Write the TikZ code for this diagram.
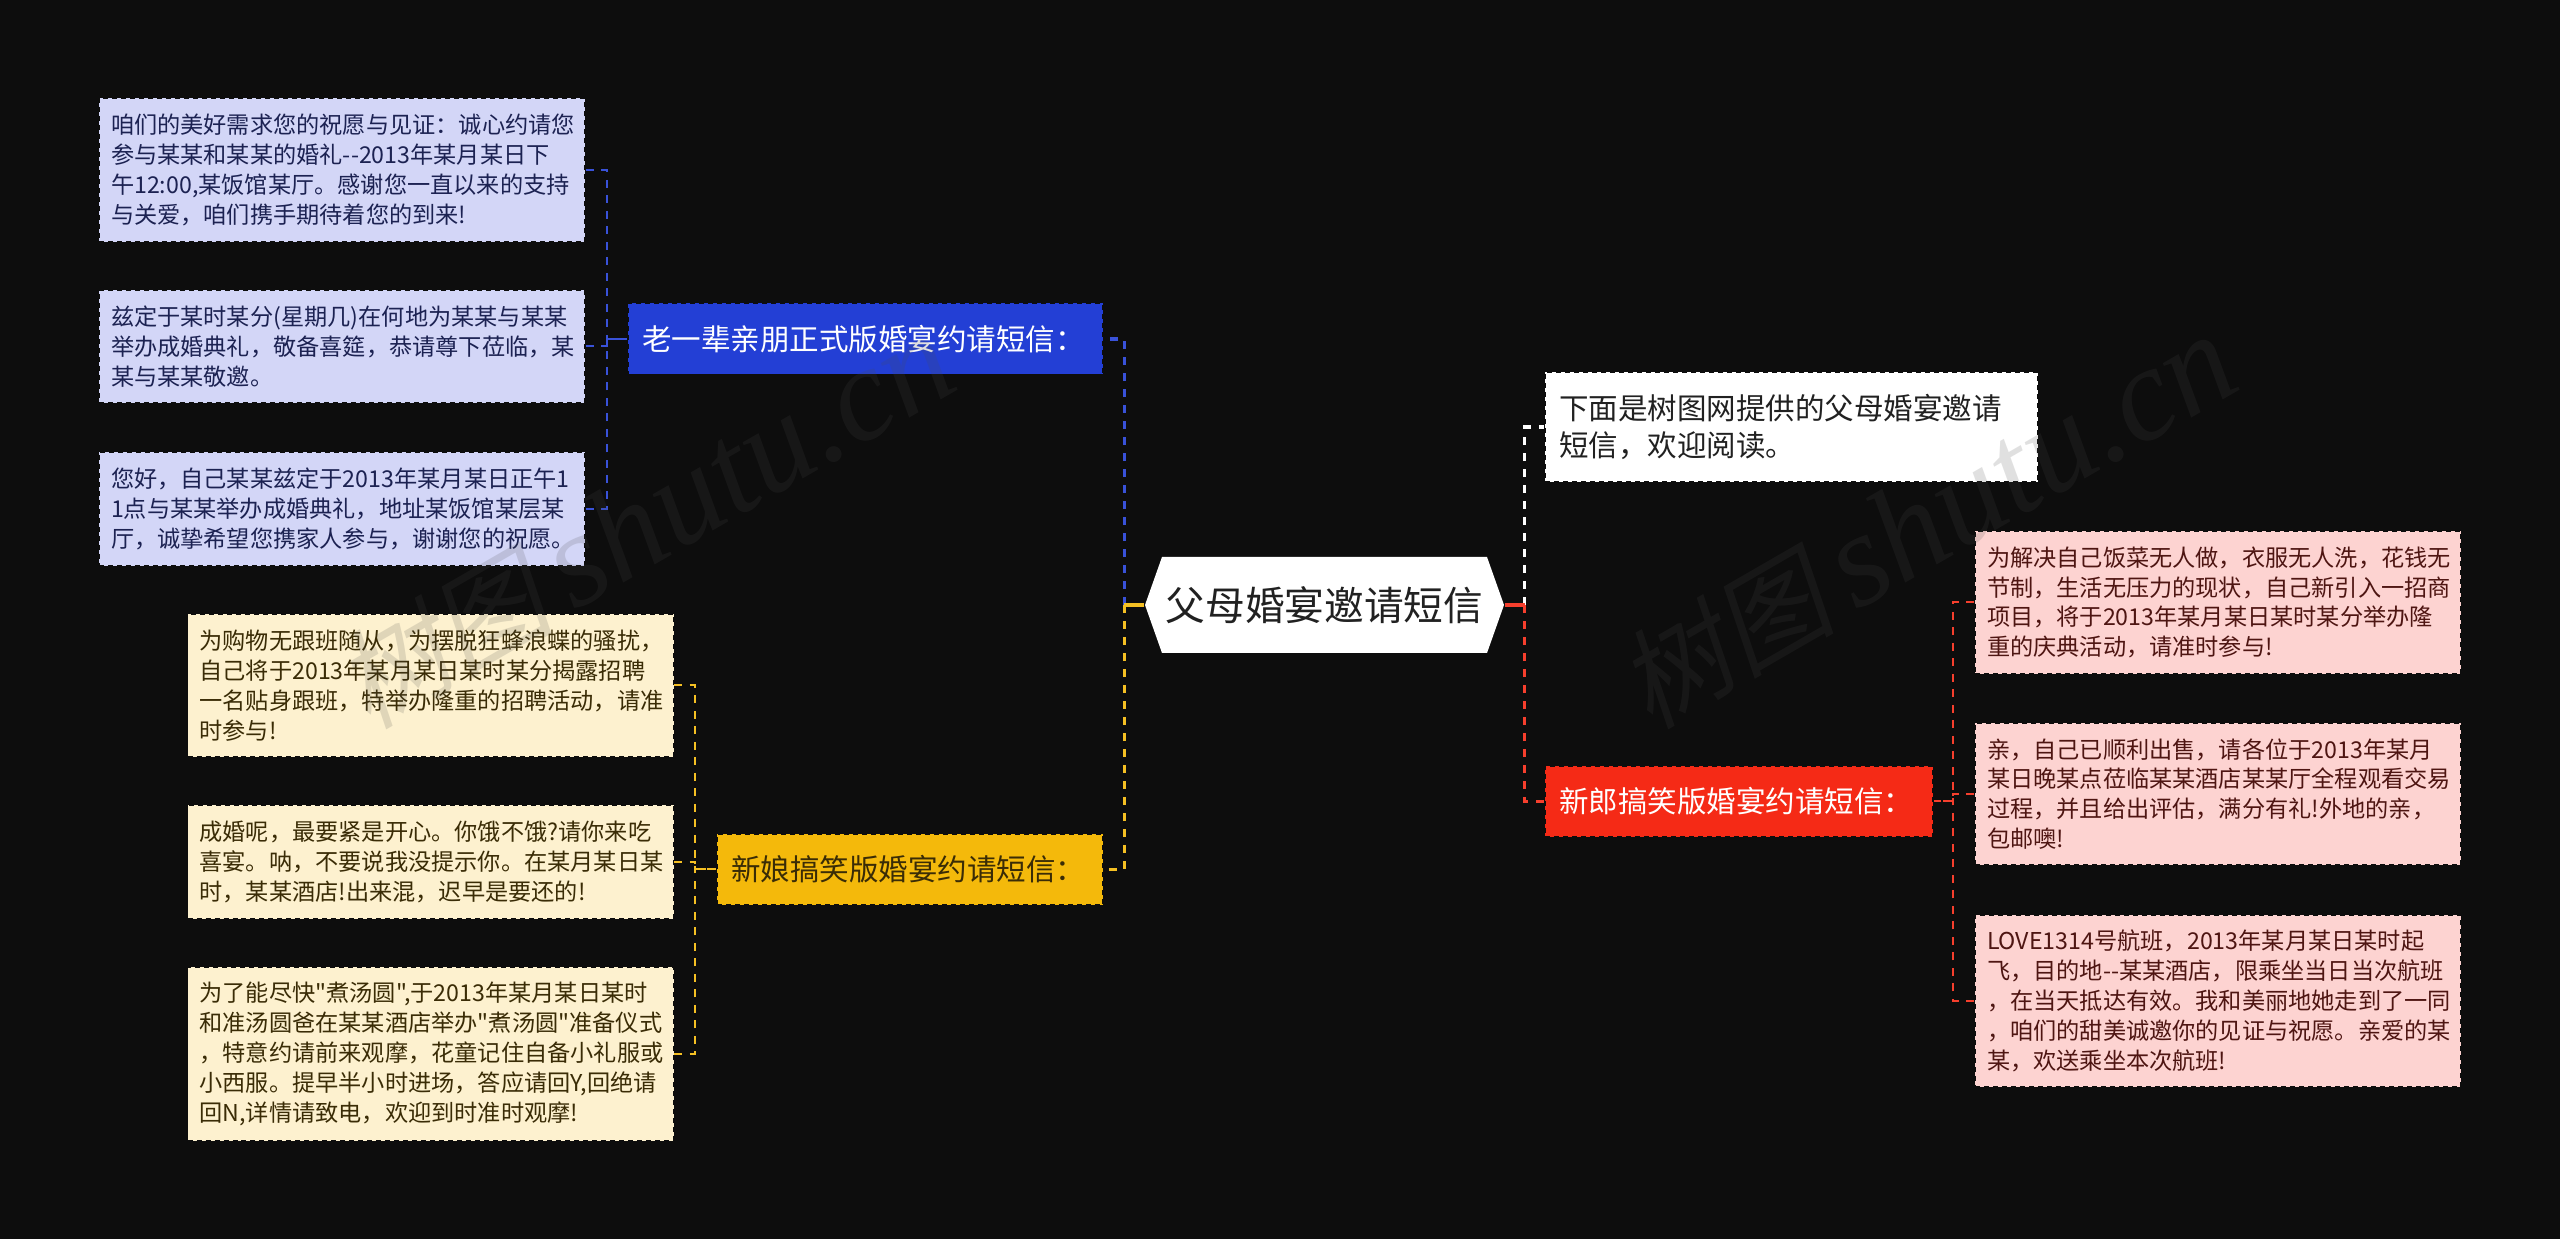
\documentclass[tikz,border=0pt]{standalone}
\usepackage{fontspec}
\setmainfont{Noto Sans CJK SC}[Ligatures=TeXOff]
\newfontfamily\markcjk[FakeSlant=0.2]{Noto Sans CJK SC}
\newfontfamily\marklatin{Liberation Serif}
\usetikzlibrary{shapes.symbols}

\definecolor{bgdark}{HTML}{0D0D0D}
\definecolor{headblue}{HTML}{233FD5}
\definecolor{headgold}{HTML}{F4B90B}
\definecolor{headred}{HTML}{F52A16}
\definecolor{paleblue}{HTML}{D3D6F7}
\definecolor{palegold}{HTML}{FDF1CF}
\definecolor{palered}{HTML}{FDD3D1}
\definecolor{inkblue}{HTML}{1C2252}
\definecolor{inkgold}{HTML}{3A2C06}
\definecolor{inkred}{HTML}{4E1512}

\tikzset{
  boxbase/.style={draw=bgdark, line width=0.014cm, dash pattern=on 0.05cm off 0.04cm, align=left, inner ysep=0pt},
  leafbox/.style={boxbase, inner xsep=0.12cm, text width=4.62cm, font=\fontsize{6.6}{8.5}\selectfont},
  headbox/.style={boxbase, inner xsep=0.14cm, minimum height=0.71cm, font=\fontsize{8.4}{10.5}\selectfont},
  rootbox/.style={signal, signal to=west and east, signal pointer angle=141,
    fill=white, inner sep=0pt, minimum width=3.59cm, minimum height=0.96cm, text=black!87,
    font=\fontsize{11.3}{13}\selectfont},
  mainlink/.style={line width=0.033cm, dash pattern=on 0.08cm off 0.08cm},
  stublink/.style={line width=0.033cm},
  sublink/.style={line width=0.02cm, dash pattern=on 0.08cm off 0.075cm},
  watermark/.style={rotate=30, text=black!70, opacity=0.17, inner sep=0pt},
}

\newcommand{\markwords}{{\fontsize{31}{32}\markcjk 树图}\hspace{0.2cm}{\fontsize{38}{40}\marklatin\itshape shutu.cn}}

\begin{document}
\begin{tikzpicture}
  \fill[bgdark] (0, 0) rectangle (25.6, 12.39);

  \node[rootbox] (rootnode) at (13.245, 6.34) {父母婚宴邀请短信};

  % upper left branch
  \node[headbox, fill=headblue, text=white, text width=4.47cm] (headblue) at (8.655, 9.00) {老一辈亲朋正式版婚宴约请短信：};
  \node[leafbox, fill=paleblue, text=inkblue, minimum height=1.44cm] (leafa) at (3.42, 10.69)
    {咱们的美好需求您的祝愿与见证：诚心约请您\\参与某某和某某的婚礼--2013年某月某日下\\午12:00,某饭馆某厅。感谢您一直以来的支持\\与关爱，咱们携手期待着您的到来!};
  \node[leafbox, fill=paleblue, text=inkblue, minimum height=1.13cm] (leafb) at (3.42, 8.925)
    {兹定于某时某分(星期几)在何地为某某与某某\\举办成婚典礼，敬备喜筵，恭请尊下莅临，某\\某与某某敬邀。};
  \node[leafbox, fill=paleblue, text=inkblue, minimum height=1.14cm] (leafc) at (3.42, 7.30)
    {您好，自己某某兹定于2013年某月某日正午1\\1点与某某举办成婚典礼，地址某饭馆某层某\\厅，诚挚希望您携家人参与，谢谢您的祝愿。};

  % lower left branch
  \node[headbox, fill=headgold, text=inkgold, text width=3.58cm] (headgold) at (9.10, 3.695) {新娘搞笑版婚宴约请短信：};
  \node[leafbox, fill=palegold, text=inkgold, minimum height=1.43cm] (leafd) at (4.305, 5.535)
    {为购物无跟班随从，为摆脱狂蜂浪蝶的骚扰，\\自己将于2013年某月某日某时某分揭露招聘\\一名贴身跟班，特举办隆重的招聘活动，请准\\时参与!};
  \node[leafbox, fill=palegold, text=inkgold, minimum height=1.14cm] (leafe) at (4.305, 3.77)
    {成婚呢，最要紧是开心。你饿不饿?请你来吃\\喜宴。呐，不要说我没提示你。在某月某日某\\时，某某酒店!出来混，迟早是要还的!};
  \node[leafbox, fill=palegold, text=inkgold, minimum height=1.74cm] (leaff) at (4.305, 1.85)
    {为了能尽快"煮汤圆",于2013年某月某日某时\\和准汤圆爸在某某酒店举办"煮汤圆"准备仪式\\，特意约请前来观摩，花童记住自备小礼服或\\小西服。提早半小时进场，答应请回Y,回绝请\\回N,详情请致电，欢迎到时准时观摩!};

  % right branches
  \node[headbox, fill=white, text=black!87, text width=4.65cm, minimum height=1.10cm] (headwhite) at (17.915, 8.12)
    {下面是树图网提供的父母婚宴邀请\\短信，欢迎阅读。};
  \node[headbox, fill=headred, text=white, text width=3.60cm] (headred) at (17.39, 4.375) {新郎搞笑版婚宴约请短信：};
  \node[leafbox, fill=palered, text=inkred, minimum height=1.43cm] (leafg) at (22.18, 6.365)
    {为解决自己饭菜无人做，衣服无人洗，花钱无\\节制，生活无压力的现状，自己新引入一招商\\项目，将于2013年某月某日某时某分举办隆\\重的庆典活动，请准时参与!};
  \node[leafbox, fill=palered, text=inkred, minimum height=1.42cm] (leafh) at (22.18, 4.45)
    {亲，自己已顺利出售，请各位于2013年某月\\某日晚某点莅临某某酒店某某厅全程观看交易\\过程，并且给出评估，满分有礼!外地的亲，\\包邮噢!};
  \node[leafbox, fill=palered, text=inkred, minimum height=1.72cm] (leafi) at (22.18, 2.38)
    {LOVE1314号航班，2013年某月某日某时起\\飞，目的地--某某酒店，限乘坐当日当次航班\\，在当天抵达有效。我和美丽地她走到了一同\\，咱们的甜美诚邀你的见证与祝愿。亲爱的某\\某，欢送乘坐本次航班!};

  % connectors
  \foreach \leaf in {leafa, leafb, leafc}
    \draw[sublink, draw=headblue!90!white] (\leaf.east) -- ++(0.21, 0) |- (headblue.west);
  \foreach \leaf in {leafd, leafe, leaff}
    \draw[sublink, draw=headgold!90!white] (\leaf.east) -- ++(0.21, 0) |- (headgold.west);
  \foreach \leaf in {leafg, leafh, leafi}
    \draw[sublink, draw=headred!90!white] (\leaf.west) -- ++(-0.215, 0) |- (headred.east);

  \coordinate (forkleft) at ([xshift=-0.20cm]rootnode.west);
  \coordinate (forkright) at ([xshift=0.20cm]rootnode.east);
  \draw[mainlink, draw=headblue!90!white] (forkleft) |- (headblue.east);
  \draw[mainlink, draw=headgold!90!white] (forkleft) |- (headgold.east);
  \draw[mainlink, draw=white] (forkright) |- (headwhite.west);
  \draw[mainlink, draw=headred!90!white] (forkright) |- (headred.west);
  \draw[stublink, draw=headgold!90!white] (rootnode.west) -- (forkleft);
  \draw[stublink, draw=headred!90!white] (rootnode.east) -- (forkright);

  % faint marks on top of everything
  \node[watermark] (markleft) at (6.45, 7.17) {\markwords};
  \node[watermark] (markright) at (19.27, 7.17) {\markwords};
\end{tikzpicture}
\end{document}
